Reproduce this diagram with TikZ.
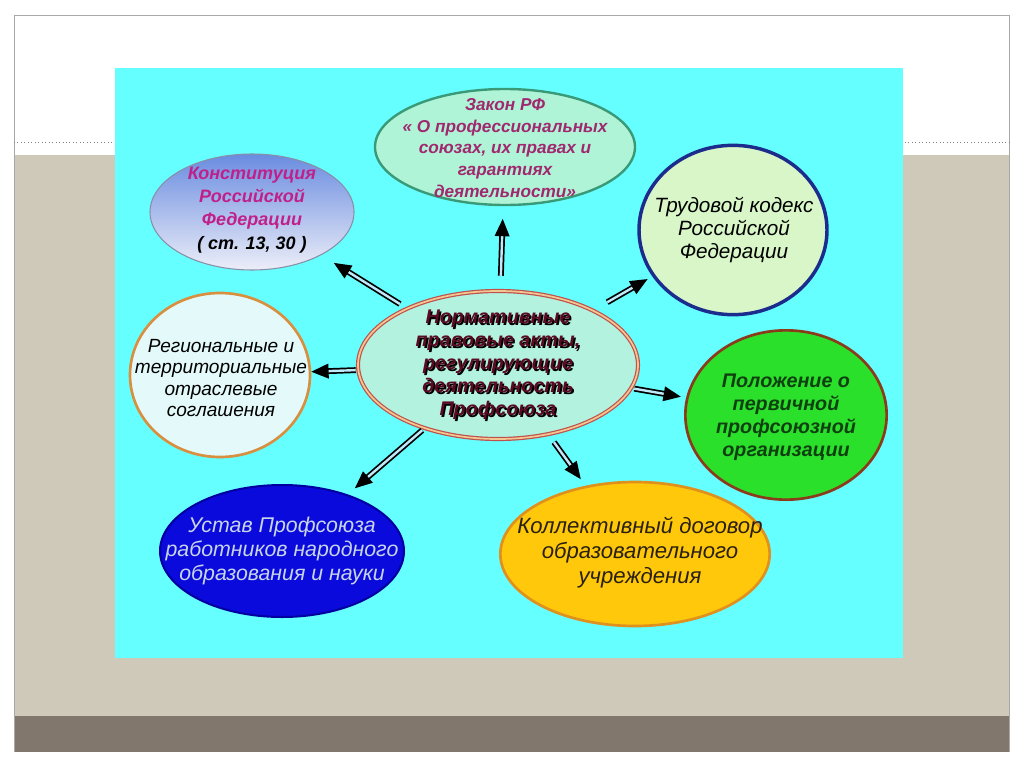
\documentclass[tikz,border=0pt]{standalone}
\usepackage{fontspec}
\setmainfont{Liberation Sans}
\usetikzlibrary{arrows.meta,shapes.geometric}
\definecolor{beige}{HTML}{CEC9B8}
\definecolor{darkband}{HTML}{81776C}
\definecolor{framegray}{HTML}{A8A8A8}
\definecolor{cyanbg}{HTML}{66FFFF}
\definecolor{lawfill}{HTML}{B0F4D8}
\definecolor{lawdraw}{HTML}{3A9A78}
\definecolor{lawtext}{HTML}{A0286E}
\definecolor{consttop}{HTML}{6A8CE0}
\definecolor{constbot}{HTML}{ECEEF8}
\definecolor{constdraw}{HTML}{8890A8}
\definecolor{consttext}{HTML}{C0208A}
\definecolor{trudfill}{HTML}{D8F6C8}
\definecolor{truddraw}{HTML}{1C2C8C}
\definecolor{cfill}{HTML}{B4F2E0}
\definecolor{cdraw}{HTML}{C0504D}
\definecolor{cdouble}{HTML}{F0C890}
\definecolor{ctext}{HTML}{5A0A22}
\definecolor{regfill}{HTML}{E4FAFA}
\definecolor{regdraw}{HTML}{D89040}
\definecolor{polfill}{HTML}{2BE02B}
\definecolor{poldraw}{HTML}{8B3A1A}
\definecolor{poltext}{HTML}{0E4010}
\definecolor{ustfill}{HTML}{0A0ADC}
\definecolor{ustdraw}{HTML}{0000A0}
\definecolor{usttext}{HTML}{C8D4E8}
\definecolor{kolfill}{HTML}{FFC80A}
\definecolor{koldraw}{HTML}{E0901C}
\definecolor{koltext}{HTML}{2A2010}
\tikzset{
  oval/.style={ellipse, inner sep=0pt},
  txt/.style={align=center, inner sep=0pt},
  arr/.style={draw=black, line width=1.3pt, double=white!75!cyan, double distance=1.8pt,
    -{Triangle[length=13pt,width=11pt]}},
}
\begin{document}
\begin{tikzpicture}[x=0.75pt,y=-0.75pt]
\useasboundingbox (0,0) rectangle (1024,767);
\fill[white] (0,0) rectangle (1024,767);
\fill[beige] (14,155) rectangle (1009,716);
\fill[darkband] (14,716) rectangle (1009,752);
\draw[framegray, line width=0.6pt] (14,752) -- (14,15) -- (1009,15) -- (1009,752);
\draw[gray, dotted, line width=0.6pt] (14,142) -- (1009,142);
\fill[cyanbg] (115,68) rectangle (903,658);

% shapes
\node[oval, fill=lawfill, draw=lawdraw, line width=1.8pt, minimum width=195pt, minimum height=87pt] (law) at (505,147) {};
\node[oval, top color=consttop, bottom color=constbot, draw=constdraw, line width=0.8pt, minimum width=153pt, minimum height=87pt] (const) at (252,212) {};
\node[oval, fill=trudfill, draw=truddraw, line width=2.6pt, minimum width=141pt, minimum height=127pt] (trud) at (733,230) {};
\node[oval, fill=cfill, draw=cdraw, line width=0.9pt, double=cdouble, double distance=1.3pt, minimum width=210pt, minimum height=111pt] (c) at (498,365) {};
\node[oval, fill=regfill, draw=regdraw, line width=2pt, minimum width=135pt, minimum height=123pt] (reg) at (220,375) {};
\node[oval, fill=polfill, draw=poldraw, line width=2pt, minimum width=151pt, minimum height=127pt] (pol) at (786,415) {};
\node[oval, fill=ustfill, draw=ustdraw, line width=1.5pt, minimum width=183pt, minimum height=99pt] (ust) at (282,551) {};
\node[oval, fill=kolfill, draw=koldraw, line width=2pt, minimum width=202pt, minimum height=108pt] (kol) at (635,554) {};

% texts
\node[txt, text=lawtext, font=\fontsize{12.9}{16.2}\selectfont\bfseries\itshape] (lawt) at (505,148)
  {Закон РФ\\« О профессиональных\\союзах, их правах и\\гарантиях\\деятельности»};
\node[txt, font=\fontsize{13.5}{17.5}\selectfont\bfseries\itshape] (constt) at (252,210)
  {\textcolor{consttext}{Конституция}\\\textcolor{consttext}{Российской}\\\textcolor{consttext}{Федерации}\\( ст. 13, 30 )};
\node[txt, font=\fontsize{15.5}{17.3}\selectfont\itshape] (trudt) at (734,230)
  {Трудовой кодекс\\Российской\\Федерации};
\node[txt, text=black, font=\fontsize{14.8}{17.2}\selectfont\bfseries\itshape] (cts) at (499.6,366.6)
  {Нормативные\\правовые акты,\\регулирующие\\деятельность\\Профсоюза};
\node[txt, text=ctext, font=\fontsize{14.8}{17.2}\selectfont\bfseries\itshape] (ct) at (498,365)
  {Нормативные\\правовые акты,\\регулирующие\\деятельность\\Профсоюза};
\node[txt, font=\fontsize{14.3}{16.2}\selectfont\itshape] (regt) at (221,378)
  {Региональные и\\территориальные\\отраслевые\\соглашения};
\node[txt, text=poltext, font=\fontsize{14.8}{17.3}\selectfont\bfseries\itshape] (polt) at (786,417)
  {Положение о\\первичной\\профсоюзной\\организации};
\node[txt, text=usttext, font=\fontsize{16}{18.2}\selectfont\itshape] (ustt) at (282,551)
  {Устав Профсоюза\\работников народного\\образования и науки};
\node[txt, text=koltext, font=\fontsize{16.6}{18.8}\selectfont\itshape] (kolt) at (640,553)
  {Коллективный договор\\образовательного\\учреждения};

% connectors
\draw[arr, shorten <=11pt, shorten >=9.5pt] (c) -- (law);
\draw[arr, shorten <=6pt, shorten >=11pt] (c) -- (const);
\draw[arr, shorten <=12pt, shorten >=4pt] (c) -- (trud);
\draw[arr, shorten <=1.5pt, shorten >=0pt] (c) -- (reg);
\draw[arr, shorten <=2pt, shorten >=4pt] (c) -- (pol);
\draw[arr, shorten <=2pt, shorten >=7pt] (c) -- (ust);
\draw[arr, shorten <=7pt, shorten >=6pt] (c) -- (kol);
\end{tikzpicture}
\end{document}
